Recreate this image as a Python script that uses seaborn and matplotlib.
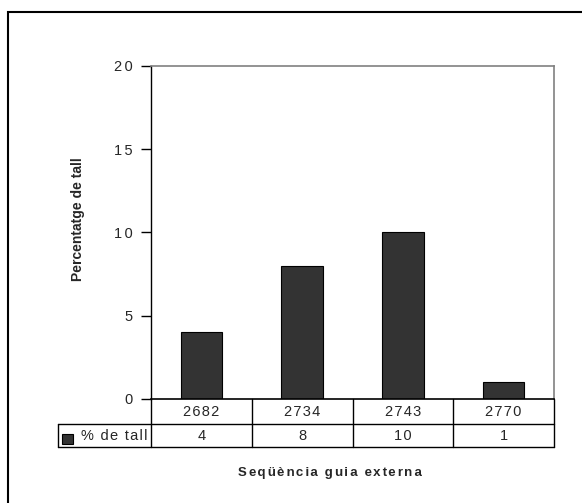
import matplotlib
matplotlib.use("Agg")
import matplotlib.pyplot as plt
from matplotlib.patches import Rectangle
from matplotlib.lines import Line2D
import seaborn as sns
import pandas as pd

categories = ["2682", "2734", "2743", "2770"]
values = [4, 8, 10, 1]
series_name = "% de tall"
y_ticks = [0, 5, 10, 15, 20]
y_label = "Percentatge de tall"
x_title = "Seqüència guia externa"

sns.set_style("white")
plt.rcParams["font.family"] = ["Liberation Sans", "DejaVu Sans"]

HAIR = "\u200a"
SIXTH = "\u2006"


def tracked(s, sep=HAIR):
    return sep.join(s)


def tracked_mixed(s):
    out = s[0]
    for i, ch in enumerate(s[1:]):
        out += (SIXTH if i % 2 == 0 else HAIR) + ch
    return out


W, H = 582, 503
fig = plt.figure(figsize=(W / 100, H / 100), dpi=100)


def fx(px):
    return px / W


def fy(py):
    return 1 - py / H


L, R, T, B = 151, 554, 66, 399
ax = fig.add_axes([fx(L), fy(B), fx(R - L), (B - T) / H])

df = pd.DataFrame({"cat": categories, "val": values})
sns.barplot(data=df, x="cat", y="val", color="#333333", width=0.41,
            edgecolor="black", linewidth=0.8, saturation=1, ax=ax)

ax.set_xlim(-0.5, len(categories) - 0.5)
ax.set_ylim(0, 20)
ax.set_yticks(y_ticks)
ax.set_yticklabels([tracked(str(t), SIXTH) for t in y_ticks], fontsize=10.5)
ax.set_xticks([])
ax.set_xlabel("")
ax.set_ylabel("")
ax.tick_params(axis="y", direction="out", length=7, width=1, color="black",
               pad=6, left=True)
for s in ["top", "right"]:
    ax.spines[s].set_color("#808080")
    ax.spines[s].set_linewidth(1.2)
ax.spines["left"].set_color("black")
ax.spines["bottom"].set_color("black")
ax.spines["left"].set_linewidth(1)
ax.spines["bottom"].set_linewidth(1.2)

# Data table below the axes
r1, r2, r3 = 399, 424, 447
ncol = len(categories)
colw = (R - L) / ncol
lines = []
lines.append(((58, R), (r2, r2)))
lines.append(((58, R), (r3, r3)))
lines.append(((58, 58), (r2, r3)))
for i in range(ncol + 1):
    x = L + i * colw
    lines.append(((x, x), (r1, r3)))
for (xs, ys) in lines:
    fig.add_artist(Line2D([fx(xs[0]), fx(xs[1])], [fy(ys[0]), fy(ys[1])],
                          color="black", linewidth=1))

for i, (c, v) in enumerate(zip(categories, values)):
    cx = L + (i + 0.5) * colw
    fig.text(fx(cx), fy((r1 + r2) / 2), tracked(c), ha="center", va="center",
             fontsize=10.5)
    fig.text(fx(cx), fy((r2 + r3) / 2), tracked(str(v)), ha="center",
             va="center", fontsize=10.5)

# legend key in table
fig.add_artist(Rectangle((fx(62), fy(443.5)), fx(10.5), 9.5 / H,
                         facecolor="#333333", edgecolor="black", linewidth=0.8))
fig.text(fx(81), fy((r2 + r3) / 2), tracked(series_name), ha="left",
         va="center", fontsize=10.5)

# axis titles
fig.text(fx(78), fy(219), y_label, rotation=90, ha="center",
         va="center", fontsize=10, fontweight="bold")
fig.text(fx(330), fy(473), tracked_mixed(x_title), ha="center", va="center",
         fontsize=9.5, fontweight="bold")

# outer frame
fig.add_artist(Rectangle((fx(8), fy(700)), fx(700), 688 / H, facecolor="none",
                         edgecolor="black", linewidth=1.5))

fig.savefig("out.png", dpi=100)
